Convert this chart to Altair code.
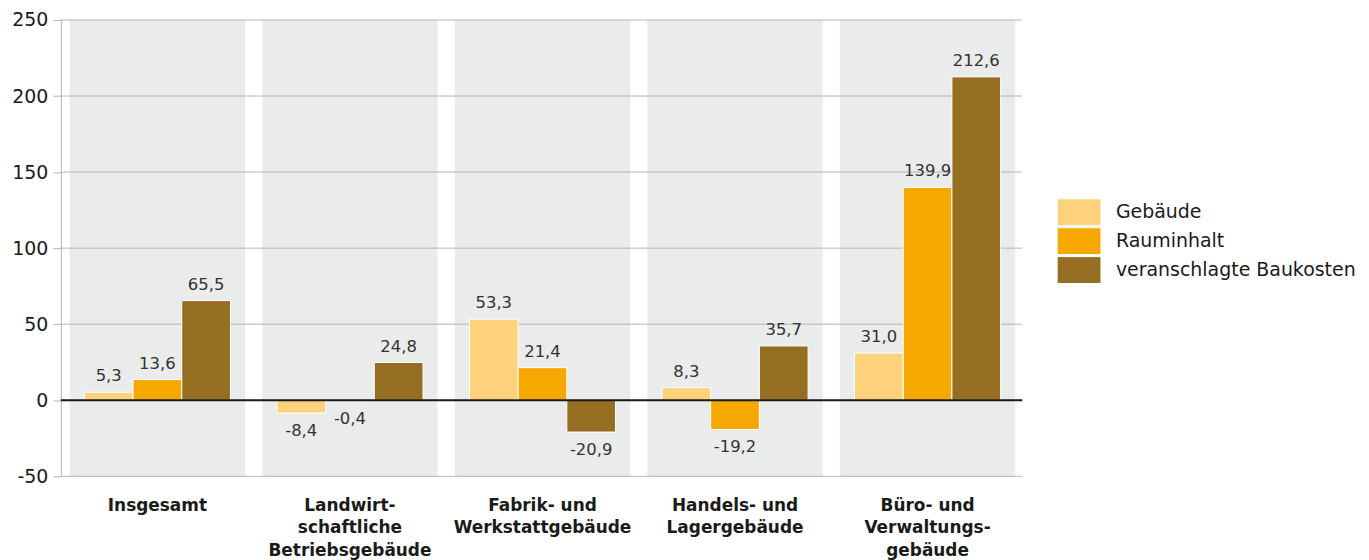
import altair as alt
import pandas as pd

categories = [
    "Insgesamt",
    "Landwirt-\nschaftliche\nBetriebsgebäude",
    "Fabrik- und\nWerkstattgebäude",
    "Handels- und\nLagergebäude",
    "Büro- und\nVerwaltungs-\ngebäude",
]
series = ["Gebäude", "Rauminhalt", "veranschlagte Baukosten"]
gebaeude = [5.3, -8.4, 53.3, 8.3, 31.0]
rauminhalt = [13.6, -0.4, 21.4, -19.2, 139.9]
baukosten = [65.5, 24.8, -20.9, 35.7, 212.6]
colors = ["#FED27A", "#F6A800", "#956E21"]
yticks = [-50, 0, 50, 100, 150, 200, 250]

rows = []
for s, vals in zip(series, [gebaeude, rauminhalt, baukosten]):
    for c, v in zip(categories, vals):
        rows.append({"Kategorie": c, "Reihe": s, "Wert": v})
df = pd.DataFrame(rows)
bands = pd.DataFrame({"Kategorie": categories})
grid = pd.DataFrame({"y": yticks})

FONT = "DejaVu Sans"
W, H = 965, 458

xscale = alt.Scale(domain=categories, paddingInner=0.0893, paddingOuter=0.0414,
                   align=0.56, round=False)
yscale = alt.Scale(domain=[-50, 250], nice=False, zero=False)

xenc = alt.X(
    "Kategorie:N",
    scale=xscale,
    sort=categories,
    axis=alt.Axis(
        title=None, domain=False, ticks=False, labelAngle=0,
        labelExpr="split(datum.label, '\\n')",
        labelFont=FONT, labelFontSize=17, labelFontWeight="bold",
        labelColor="#1a1a1a", labelLineHeight=22.5, labelPadding=21,
        labelBaseline="top",
    ),
)

band_layer = alt.Chart(bands).mark_rect(color="#EAEBEB").encode(
    x=xenc,
    y=alt.datum(250, scale=yscale),
    y2=alt.datum(-50),
)

grid_layer = alt.Chart(grid).mark_rule(color="#B4B4B4", strokeWidth=1).encode(
    y=alt.Y("y:Q", scale=yscale,
            axis=alt.Axis(
                title=None, values=yticks, grid=False,
                domainColor="#B4B4B4", tickColor="#B4B4B4", tickSize=8,
                labelExpr="datum.value + ''",
                labelFont=FONT, labelFontSize=19, labelColor="#1a1a1a",
                labelPadding=5,
            )),
)

bars = alt.Chart(df).mark_bar(stroke="white", strokeWidth=1).encode(
    x=alt.X("Kategorie:N", scale=xscale, sort=categories),
    xOffset=alt.XOffset("Reihe:N", sort=series,
                        scale=alt.Scale(domain=series, paddingInner=0, paddingOuter=0.3)),
    y=alt.Y("Wert:Q", scale=yscale),
    color=alt.Color(
        "Reihe:N",
        scale=alt.Scale(domain=series, range=colors),
        legend=alt.Legend(
            title=None, orient="none", legendX=1009, legendY=180,
            symbolType="M-1.76,-1.08H1.76V1.08H-1.76Z",
            symbolSize=625, symbolStrokeColor="white", symbolStrokeWidth=1,
            labelFont=FONT, labelFontSize=19, labelColor="#1a1a1a",
            labelOffset=24, rowPadding=-3.5, padding=0, labelLimit=400,
        ),
    ),
)

zero = alt.Chart(pd.DataFrame({"y": [0]})).mark_rule(color="#1a1a1a", strokeWidth=1.8).encode(
    y=alt.Y("y:Q", scale=yscale)
)

label_expr = "replace(replace(format(datum.Wert, '.1f'), '.', ','), '\u2212', '-')"
text_base = alt.Chart(df).transform_calculate(lab=label_expr)

pos_labels = text_base.transform_filter("datum.Wert >= 0").mark_text(
    baseline="bottom", dy=-8, font=FONT, fontSize=16.5, color="#333333"
).encode(
    x=alt.X("Kategorie:N", scale=xscale, sort=categories),
    xOffset=alt.XOffset("Reihe:N", sort=series),
    y=alt.Y("Wert:Q", scale=yscale),
    text="lab:N",
)
neg_labels = text_base.transform_filter("datum.Wert < 0").mark_text(
    baseline="top", dy=10, font=FONT, fontSize=16.5, color="#333333"
).encode(
    x=alt.X("Kategorie:N", scale=xscale, sort=categories),
    xOffset=alt.XOffset("Reihe:N", sort=series),
    y=alt.Y("Wert:Q", scale=yscale),
    text="lab:N",
)

chart = alt.layer(band_layer, grid_layer, bars, zero, pos_labels, neg_labels).properties(
    width=W, height=H,
    autosize=alt.AutoSizeParams(type="none"),
    padding={"left": 53, "top": 11, "right": 340, "bottom": 90},
).configure_view(stroke=None).resolve_scale(xOffset="shared")

chart.save("out.html", embed_options={"renderer": "svg", "actions": False})
